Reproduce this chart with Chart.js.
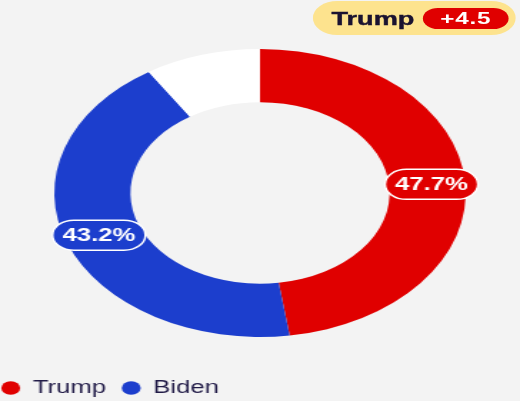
<!DOCTYPE html>
<html>
<head>
<meta charset="utf-8">
<script src="https://cdn.jsdelivr.net/npm/chart.js@4.4.1/dist/chart.umd.min.js"></script>
<style>
  html, body { margin: 0; padding: 0; background: #f3f3f3; overflow: hidden; }
  #wrap { position: relative; width: 364px; height: 401px; transform: scaleX(1.4286); transform-origin: 0 0; font-family: 'Liberation Sans', Arial, sans-serif; }
  #poll { position: absolute; left: 0; top: 0; }
  .lead { position: absolute; left: 219px; top: 1px; width: 142px; height: 34px; border-radius: 17px; background: #fde38e; }
  .lead .name { position: absolute; left: 13px; top: 0; line-height: 35px; font-size: 19px; font-weight: bold; color: #1a1230; -webkit-text-stroke: 0.4px #1a1230; }
  .lead .diff { position: absolute; left: 77px; top: 7px; width: 60px; height: 21px; line-height: 21px; border-radius: 10.5px; background: #e00000; color: #fff; font-size: 17px; font-weight: bold; text-align: center; letter-spacing: 0.5px; }
</style>
</head>
<body>
<div id="wrap">
  <canvas id="poll" width="364" height="401"></canvas>
  <div class="lead"><span class="name"></span><span class="diff"></span></div>
</div>
<script>
// poll average, remaining share is undecided / others
const candidates = ['Trump', 'Biden', 'Other'];
const shares = [47.7, 43.2, 9.1];
const sliceColors = ['#e00000', '#1c3ecd', '#ffffff'];
const labelled = [true, true, false];

const margin = shares[0] - shares[1];
document.querySelector('.lead .name').textContent = candidates[0];
document.querySelector('.lead .diff').textContent = '+' + margin.toFixed(1);

function pill(ctx, x, y, w, h) {
    let r = h / 2;
    ctx.beginPath();
    ctx.moveTo(x + r, y);
    ctx.lineTo(x + w - r, y);
    ctx.arc(x + w - r, y + r, r, -Math.PI / 2, Math.PI / 2);
    ctx.lineTo(x + r, y + h);
    ctx.arc(x + r, y + r, r, Math.PI / 2, Math.PI * 1.5);
    ctx.closePath();
}

// percentage tags sitting on the ring
const shareLabels = {
    id: 'shareLabels',
    afterDatasetsDraw(chart) {
        let ctx = chart.ctx;
        let arcs = chart.getDatasetMeta(0).data;
        ctx.save();
        ctx.font = 'bold 18px "Liberation Sans", Arial, sans-serif';
        ctx.textAlign = 'center';
        ctx.textBaseline = 'middle';
        arcs.forEach((arc, i) => {
            if (!labelled[i]) return;
            let p = arc.getProps(['x', 'y', 'startAngle', 'endAngle', 'innerRadius', 'outerRadius']);
            let mid = (p.startAngle + p.endAngle) / 2;
            let r = (p.innerRadius + p.outerRadius) / 2 + 3;
            let cx = p.x + Math.cos(mid) * r, cy = p.y + Math.sin(mid) * r;
            let text = shares[i].toFixed(1) + '%';
            let w = ctx.measureText(text).width + 14, h = 30;
            pill(ctx, cx - w / 2, cy - h / 2, w, h);
            ctx.fillStyle = sliceColors[i];
            ctx.fill();
            ctx.lineWidth = 1.5;
            ctx.strokeStyle = '#ffffff';
            ctx.stroke();
            ctx.fillStyle = '#ffffff';
            ctx.fillText(text, cx, cy + 1);
        });
        ctx.restore();
    }
};

let ctx = document.getElementById('poll').getContext('2d');
let pollChart = new Chart(ctx, {
    type: 'doughnut',
    data: {
        labels: candidates,
        datasets: [{
            data: shares,
            backgroundColor: sliceColors,
            borderWidth: 0
        }]
    },
    options: {
        responsive: false,
        animation: false,
        cutout: '63%',
        layout: { padding: { top: 49, left: -10, right: -8, bottom: -6 } },
        plugins: {
            tooltip: { enabled: false },
            legend: {
                position: 'bottom',
                align: 'start',
                // empty title only pushes the items down
                title: { display: true, text: '', font: { size: 10 }, padding: { top: 0, bottom: 19 } },
                labels: {
                    usePointStyle: true,
                    pointStyle: 'circle',
                    boxWidth: 13,
                    boxHeight: 9.4,
                    padding: 11,
                    color: '#221c48',
                    font: { size: 18, family: '"Liberation Sans", Arial, sans-serif' },
                    filter: item => labelled[item.index]
                }
            }
        }
    },
    plugins: [shareLabels]
});
</script>
</body>
</html>
